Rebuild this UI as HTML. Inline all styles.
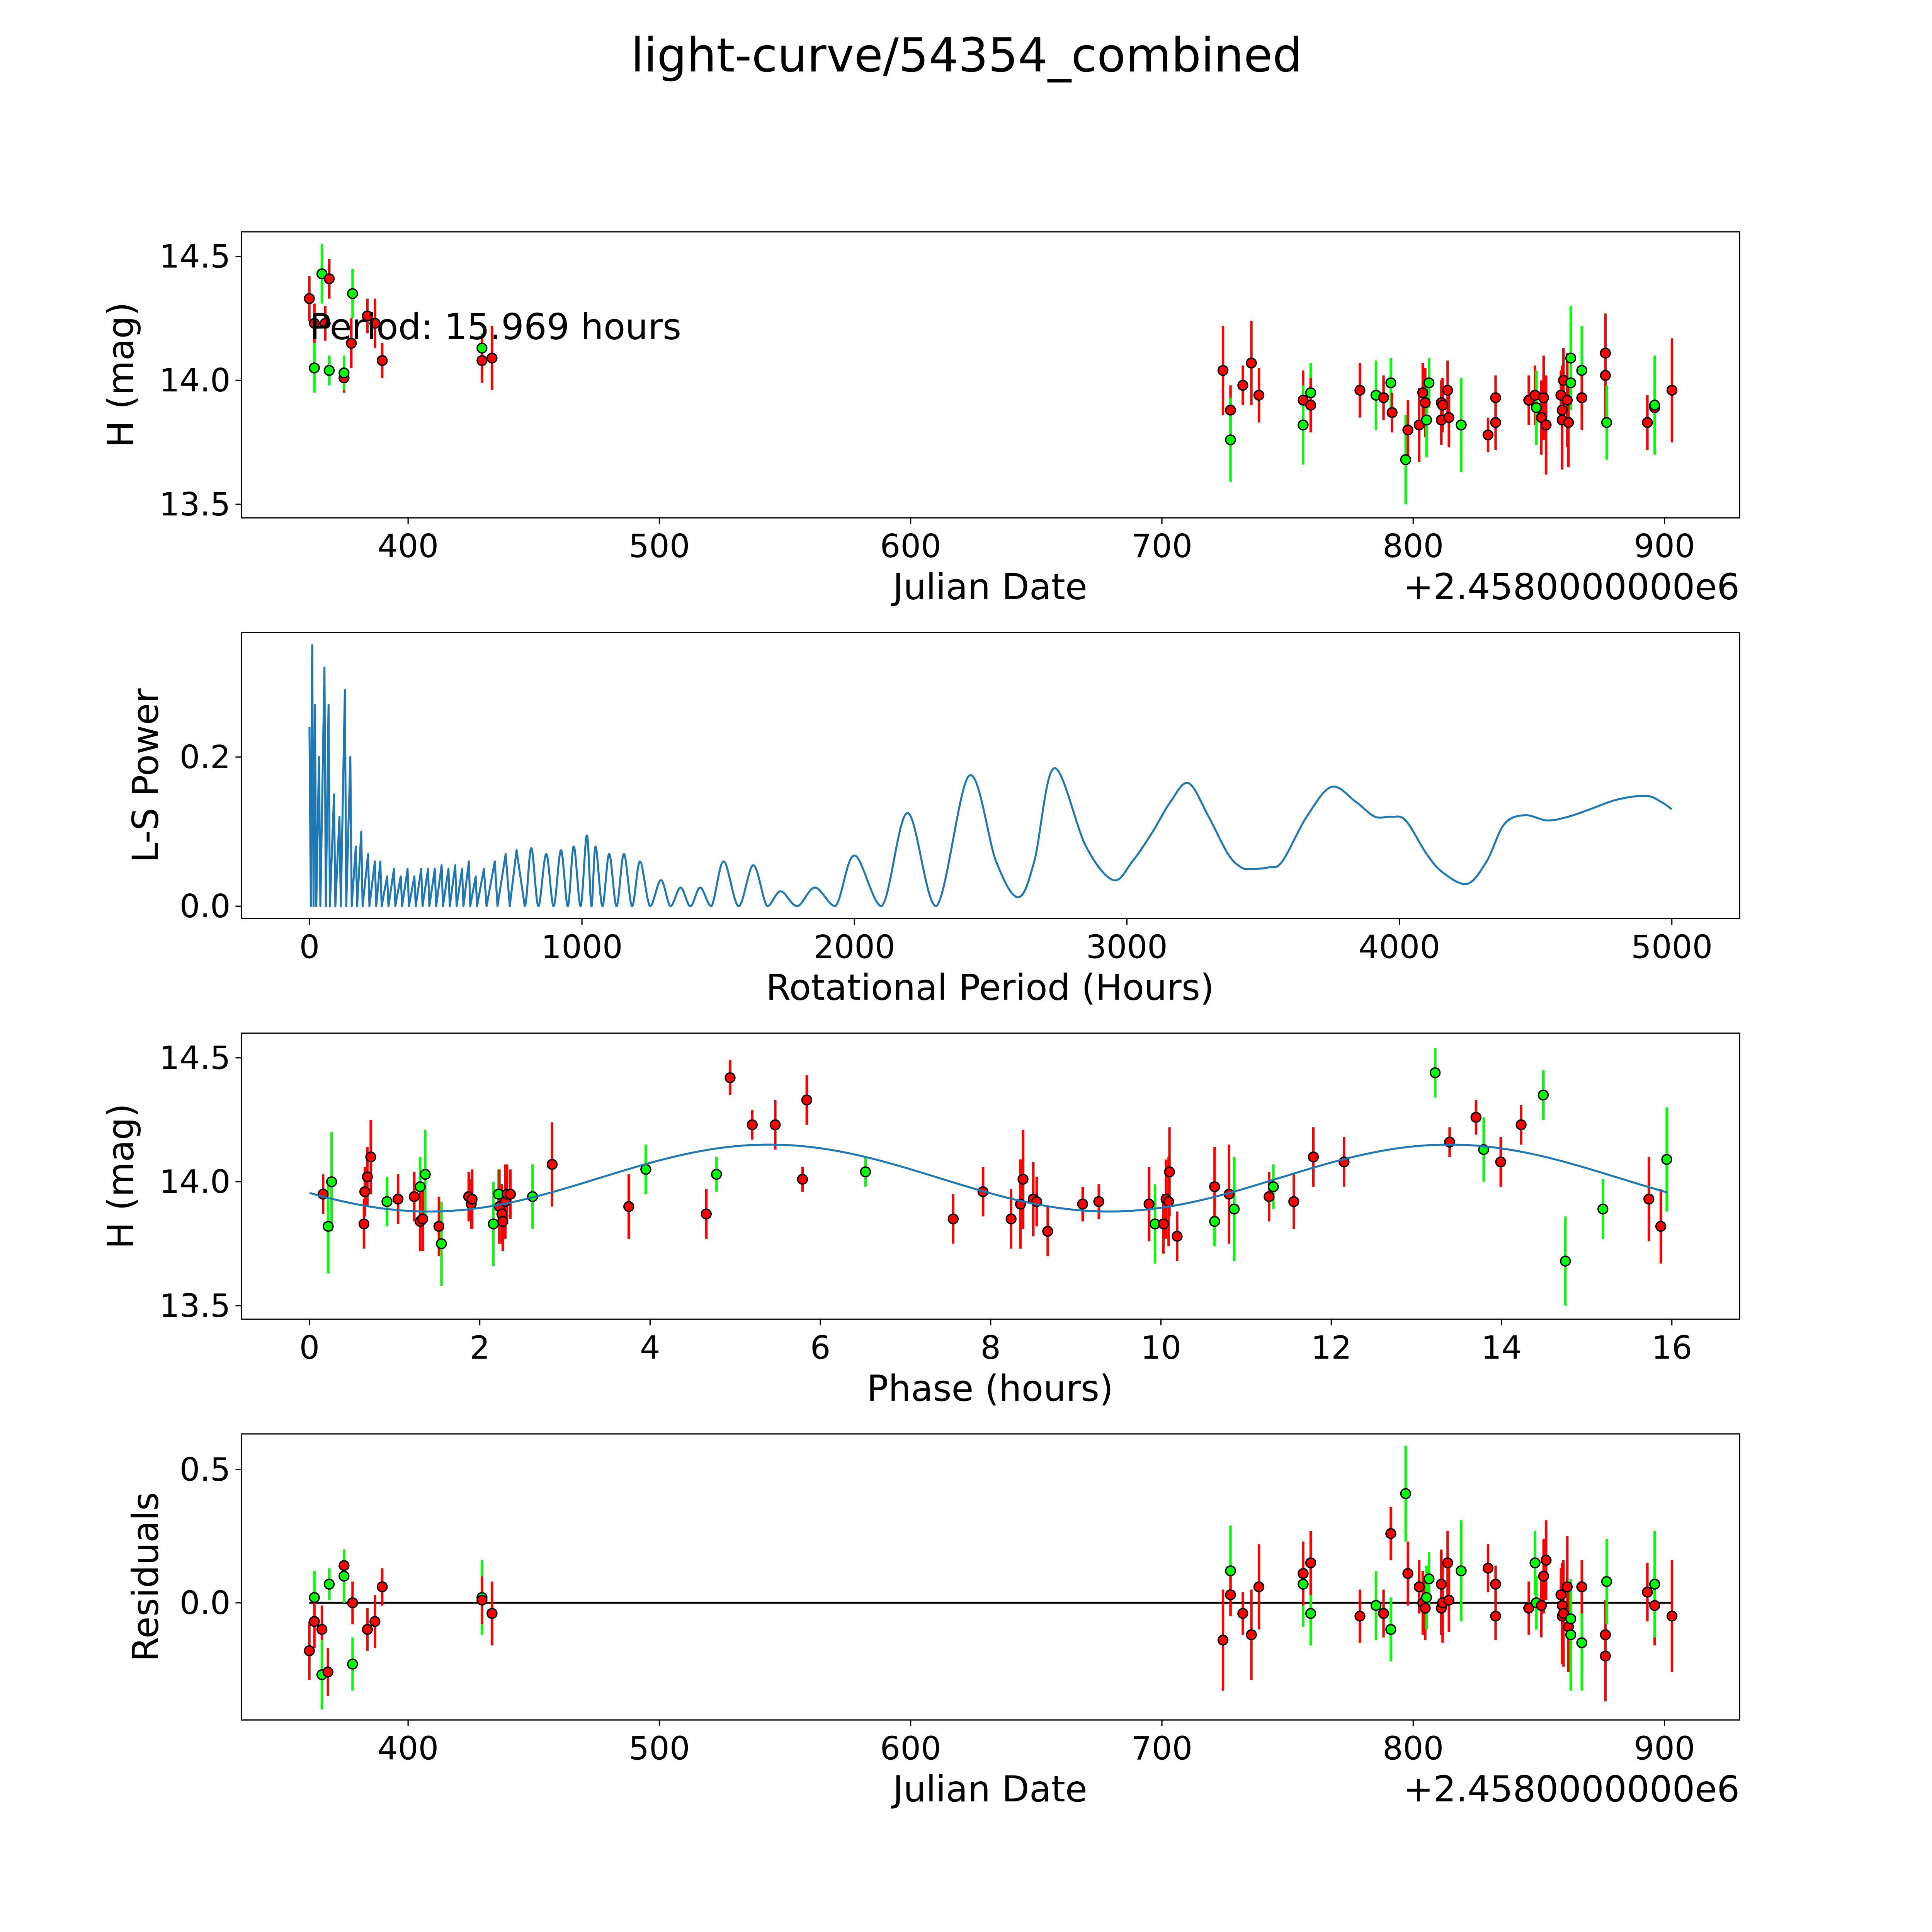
<!DOCTYPE html>
<html><head><meta charset="utf-8"><style>
html,body{margin:0;padding:0;background:#fff;overflow:hidden;width:100vw;height:100vh}
svg{display:block;width:100vw;height:100vh}
text{font-family:"DejaVu Sans","Liberation Sans",sans-serif;fill:#000}
</style></head><body>
<svg id="fig" viewBox="0 0 1567 1567" preserveAspectRatio="none" xmlns="http://www.w3.org/2000/svg">
<rect width="1600" height="1600" fill="#fff"/>
<text x="784" y="58" font-size="38" text-anchor="middle">light-curve/54354_combined</text>
<g id="p1"></g>
<g id="p2"></g>
<g id="p3"></g>
<g id="p4"></g>
</svg>
<script>
// ---- Data ----
const lcJD=[360.7,362.7,362.7,365.7,367,368.6,368.6,374.5,374.5,377.4,377.9,383.8,386.8,389.7,429.4,429.4,433.4,724.3,727.3,727.3,732.2,735.6,738.6,756.2,756.2,759.2,759.2,778.8,785.2,788.2,791.1,791.6,797,797.9,802.4,803.8,804.8,805.3,806.3,811.2,811.2,811.7,813.7,814.2,819.1,829.8,832.8,832.8,846,848.5,849,851,851.9,852.9,858.8,859.8,859.3,859.3,861.3,861.8,862.7,862.7,867.1,867.1,876.5,876.5,877,893.2,896.1,896.1,903];
const lcMag=[14.33,14.23,14.05,14.43,14.23,14.41,14.04,14.01,14.03,14.15,14.35,14.26,14.23,14.08,14.13,14.08,14.09,14.04,13.88,13.76,13.98,14.07,13.94,13.92,13.82,13.95,13.90,13.96,13.94,13.93,13.99,13.87,13.68,13.80,13.82,13.95,13.91,13.84,13.99,13.91,13.84,13.90,13.96,13.85,13.82,13.78,13.93,13.83,13.92,13.94,13.89,13.85,13.93,13.82,13.94,14.00,13.88,13.84,13.92,13.83,14.09,13.99,14.04,13.93,14.11,14.02,13.83,13.83,13.89,13.90,13.96];
const lcErr=[0.09,0.08,0.1,0.12,0.07,0.08,0.06,0.06,0.07,0.1,0.1,0.07,0.1,0.07,0.06,0.09,0.13,0.18,0.1,0.17,0.08,0.17,0.11,0.12,0.16,0.12,0.11,0.11,0.14,0.09,0.1,0.08,0.18,0.12,0.15,0.12,0.14,0.15,0.1,0.09,0.1,0.11,0.12,0.12,0.19,0.07,0.09,0.11,0.1,0.12,0.15,0.15,0.17,0.2,0.1,0.13,0.18,0.2,0.19,0.18,0.21,0.1,0.18,0.13,0.16,0.21,0.15,0.11,0.14,0.2,0.21];
const lcCol=['r','r','g','g','r','r','g','r','g','r','g','r','r','r','g','r','r','r','r','g','r','r','r','r','g','g','r','r','g','r','g','r','g','r','r','r','r','g','g','r','r','r','r','r','g','r','r','r','r','r','g','r','r','r','r','r','r','r','r','r','g','g','g','r','r','r','g','r','r','g','r'];

const phX=[0.16,0.22,0.26,0.64,0.65,0.68,0.72,0.91,1.04,1.23,1.30,1.30,1.33,1.36,1.52,1.55,1.87,1.90,1.91,2.16,2.22,2.23,2.26,2.27,2.30,2.32,2.36,2.62,2.85,3.75,3.95,4.66,4.78,4.94,5.20,5.47,5.79,5.84,6.53,7.56,7.91,8.24,8.35,8.38,8.50,8.54,8.67,9.08,9.27,9.86,9.93,10.03,10.06,10.09,10.10,10.19,10.63,10.63,10.80,10.86,11.27,11.32,11.56,11.79,12.15,13.22,13.39,13.70,13.79,13.99,14.23,14.49,14.75,15.19,15.73,15.87,15.94];
const phMag=[13.95,13.82,14.00,13.83,13.96,14.02,14.10,13.92,13.93,13.94,13.98,13.84,13.85,14.03,13.82,13.75,13.94,13.91,13.93,13.83,13.95,13.90,13.87,13.84,13.92,13.95,13.95,13.94,14.07,13.90,14.05,13.87,14.03,14.42,14.23,14.23,14.01,14.33,14.04,13.85,13.96,13.85,13.91,14.01,13.93,13.92,13.80,13.91,13.92,13.91,13.83,13.83,13.93,13.92,14.04,13.78,13.84,13.98,13.95,13.89,13.94,13.98,13.92,14.10,14.08,14.44,14.16,14.26,14.13,14.08,14.23,14.35,13.68,13.89,13.93,13.82,14.09];
const phCol=['r','g','g','r','r','r','r','g','r','r','g','r','r','g','r','g','r','r','r','g','g','r','r','r','r','r','r','g','r','r','g','r','g','r','r','r','r','r','g','r','r','r','r','r','r','r','r','r','r','r','g','r','r','r','r','r','g','r','r','g','r','g','r','r','r','g','r','r','g','r','r','g','g','g','r','r','g'];
const phErr=[0.08,0.19,0.2,0.1,0.1,0.12,0.15,0.1,0.1,0.1,0.12,0.12,0.13,0.18,0.12,0.17,0.1,0.1,0.12,0.17,0.1,0.15,0.12,0.12,0.15,0.12,0.1,0.13,0.17,0.13,0.1,0.1,0.07,0.07,0.06,0.1,0.05,0.1,0.06,0.1,0.1,0.12,0.18,0.2,0.15,0.1,0.1,0.07,0.07,0.15,0.16,0.12,0.16,0.18,0.18,0.1,0.1,0.16,0.2,0.21,0.1,0.09,0.11,0.12,0.1,0.1,0.06,0.07,0.13,0.1,0.08,0.1,0.18,0.12,0.17,0.15,0.21];
const fitMean=14.015, fitAmp=0.135, fitPeak=5.4, fitHalfPeriod=7.985;

const resJD=[360.7,362.7,362.7,365.7,365.7,368.1,368.6,374.5,374.5,377.9,377.9,383.8,386.8,389.7,429.4,429.4,433.4,724.3,727.3,727.3,732.2,735.6,738.6,756.2,756.2,759.2,759.2,778.8,785.2,788.2,791.1,791.1,797,797.9,802.4,803.8,804.8,805.3,806.3,811.2,811.2,811.7,813.7,814.2,819.1,829.8,832.8,832.8,846,848.5,849,851,851.9,852.9,858.8,859.3,859.3,859.8,861.3,861.8,862.7,862.7,867.1,867.1,876.5,876.5,877,893.2,896.1,896.1,903];
const resVal=[-0.18,0.02,-0.07,-0.10,-0.27,-0.26,0.07,0.14,0.10,0.0,-0.23,-0.10,-0.07,0.06,0.02,0.01,-0.04,-0.14,0.12,0.03,-0.04,-0.12,0.06,0.07,0.11,-0.04,0.15,-0.05,-0.01,-0.04,0.26,-0.10,0.41,0.11,0.06,0.0,-0.02,0.02,0.09,-0.02,0.07,0.0,0.15,0.01,0.12,0.13,0.07,-0.05,-0.02,0.15,0.0,-0.01,0.10,0.16,0.03,-0.05,-0.01,-0.04,0.06,-0.09,-0.12,-0.06,-0.15,0.06,-0.12,-0.20,0.08,0.04,-0.01,0.07,-0.05];
const resErr=[0.11,0.1,0.1,0.09,0.13,0.09,0.06,0.06,0.1,0.08,0.1,0.08,0.1,0.07,0.14,0.09,0.12,0.19,0.17,0.08,0.08,0.17,0.16,0.16,0.12,0.12,0.12,0.1,0.13,0.09,0.1,0.12,0.18,0.12,0.1,0.12,0.12,0.12,0.1,0.1,0.13,0.15,0.12,0.12,0.19,0.09,0.07,0.09,0.1,0.12,0.1,0.12,0.14,0.15,0.1,0.18,0.16,0.2,0.19,0.17,0.21,0.12,0.18,0.1,0.13,0.17,0.16,0.11,0.15,0.2,0.21];
const resCol=['r','g','r','r','g','r','g','r','g','r','g','r','r','r','g','r','r','r','g','r','r','r','r','g','r','g','r','r','g','r','r','g','g','r','r','r','r','g','g','r','r','r','r','r','g','r','r','r','r','g','g','r','r','r','r','r','r','r','r','r','g','g','g','r','r','r','g','r','r','g','r'];

const lsPeriod=[0,5,10,15,20,25,35,40,55,60,70,75,90,95,110,115,130,135,150,155,170,175,190,195,215,220,240,245,260,265,285,290,310,315,335,340,360,365,385,390,410,415,435,440,460,465,485,490,510,515,535,540,560,565,585,590,610,615,640,650,680,690,720,735,760,790,814,840,869,896,923,948,970,995,1018,1035,1050,1075,1100,1127,1154,1184,1213,1250,1290,1325,1362,1398,1434,1475,1520,1575,1629,1680,1729,1790,1855,1930,2000,2100,2195,2300,2421,2520,2600,2660,2733,2850,2950,3020,3095,3160,3226,3300,3371,3420,3457,3520,3570,3660,3751,3840,3910,3970,4023,4100,4160,4249,4320,4385,4460,4543,4620,4700,4800,4905,4960,5000];
const lsPower=[0.24,0,0.35,0,0.27,0,0.2,0,0.32,0,0.27,0,0.15,0,0.12,0,0.29,0,0.2,0,0.08,0,0.1,0,0.07,0,0.06,0,0.06,0,0.04,0,0.05,0,0.04,0,0.05,0,0.04,0,0.05,0,0.05,0,0.05,0,0.055,0,0.05,0,0.055,0,0.05,0,0.06,0,0.04,0,0.05,0,0.06,0,0.07,0,0.075,0,0.078,0,0.07,0,0.075,0,0.08,0,0.095,0,0.08,0,0.07,0,0.07,0,0.06,0,0.035,0,0.025,0,0.025,0,0.06,0,0.055,0,0.02,0,0.025,0,0.068,0,0.125,0,0.175,0.06,0.012,0.06,0.185,0.08,0.035,0.06,0.1,0.14,0.165,0.12,0.07,0.052,0.05,0.052,0.06,0.12,0.16,0.14,0.12,0.12,0.115,0.07,0.045,0.03,0.06,0.11,0.122,0.115,0.12,0.13,0.143,0.148,0.14,0.13];

// ---- helpers ----
const NS='http://www.w3.org/2000/svg';
function mk(parent,tag,attrs){const e=document.createElementNS(NS,tag);for(const k in attrs)e.setAttribute(k,attrs[k]);parent.appendChild(e);return e;}
const L=196,R=1411;
function lin(d0,d1,r0,r1){return v=>r0+(v-d0)*(r1-r0)/(d1-d0);}

function frame(g,top,bot,xs,xt,xl,ys,yt,yl,xlabel,ylabel,ylx,offset){
  const bx=mk(g,'rect',{x:L,y:top,width:R-L,height:bot-top,fill:'none',stroke:'#000','stroke-width':1});
  
  
  xt.forEach((v,i)=>{const x=xs(v);
    const t=mk(g,'line',{x1:x,x2:x,y1:bot,y2:bot+5,stroke:'#000'});
    
    
    const tx=mk(g,'text',{x:x,y:bot+32,'font-size':26,'text-anchor':'middle'});tx.textContent=xl[i];
    
    });
  yt.forEach((v,i)=>{const y=ys(v);
    const t=mk(g,'line',{x1:L-5,x2:L,y1:y,y2:y,stroke:'#000'});
    
    
    const tx=mk(g,'text',{x:L-9,y:y+9,'font-size':26,'text-anchor':'end'});tx.textContent=yl[i];
    
    });
  const xlab=mk(g,'text',{x:803,y:bot+66,'font-size':29,'text-anchor':'middle'});xlab.textContent=xlabel;
  
  
  const cy=(top+bot)/2;
  const ylab=mk(g,'text',{x:ylx,y:cy,'font-size':29,'text-anchor':'middle',transform:`rotate(-90 ${ylx} ${cy})`});ylab.textContent=ylabel;
  
  
  if(offset){const o=mk(g,'text',{x:R,y:bot+66,'font-size':29,'text-anchor':'end'});o.textContent='+2.4580000000e6';
    
    }
}
function points(g,xs,ys,X,Y,E,C){
  const eg=mk(g,'g',{});
  const mg=mk(g,'g',{});
  X.forEach((xv,i)=>{const x=xs(xv);const col=C[i]==='g'?'#00ff00':'#ff0000';
    const b=mk(eg,'line',{x1:x,x2:x,y1:ys(Y[i]-E[i]),y2:ys(Y[i]+E[i]),stroke:col,'stroke-width':2});
    
    
    const c=mk(mg,'circle',{cx:x,cy:ys(Y[i]),r:3.9,fill:col,stroke:'#000','stroke-width':1.1});
    
    });
}
const jdTicks=[400,500,600,700,800,900];

// Panel 1
(function(){const g=document.getElementById('p1');const top=188,bot=420;
 const xs=lin(400,900,331,1350), ys=lin(14.5,13.5,208,409);
 points(g,xs,ys,lcJD,lcMag,lcErr,lcCol);
 frame(g,top,bot,xs,jdTicks,jdTicks.map(String),ys,[13.5,14.0,14.5],['13.5','14.0','14.5'],'Julian Date','H (mag)',108,true);
 const t=mk(g,'text',{x:251,y:275,'font-size':29});t.textContent='Period: 15.969 hours';
 
 
})();
// Panel 2
(function(){const g=document.getElementById('p2');const top=513,bot=745;
 const xs=lin(0,5000,251,1356), ys=lin(0,0.2,735,614);
 const n=Math.min(lsPeriod.length,lsPower.length);
 const P=[];for(let i=0;i<n;i++)P.push([xs(lsPeriod[i]),ys(lsPower[i])]);
 let d='M'+P[0][0]+','+P[0][1];
 for(let i=0;i<P.length-1;i++){const p0=P[Math.max(0,i-1)],p1=P[i],p2=P[i+1],p3=P[Math.min(P.length-1,i+2)];
   if(lsPeriod[i]<790){d+=' L'+p2[0]+','+p2[1];continue;}
   const c1x=p1[0]+(p2[0]-p0[0])/6,c1y=p1[1]+(p2[1]-p0[1])/6,c2x=p2[0]-(p3[0]-p1[0])/6,c2y=p2[1]-(p3[1]-p1[1])/6;
   d+=` C${c1x},${Math.min(c1y,735)} ${c2x},${Math.min(c2y,735)} ${p2[0]},${p2[1]}`;}
 const pa=mk(g,'path',{d:d,fill:'none',stroke:'#1f77b4','stroke-width':1.6,'stroke-linejoin':'round'});
 
 
 const xt=[0,1000,2000,3000,4000,5000];
 frame(g,top,bot,xs,xt,xt.map(String),ys,[0,0.2],['0.0','0.2'],'Rotational Period (Hours)','L-S Power',128,false);
})();
// Panel 3
(function(){const g=document.getElementById('p3');const top=838,bot=1070;
 const xs=lin(0,16,251,1356), ys=lin(14.5,13.5,858,1059);
 points(g,xs,ys,phX,phMag,phErr,phCol);
 let d='';for(let k=0;k<=320;k++){const p=16*k/320*0.997;const v=fitMean+fitAmp*Math.cos(2*Math.PI*(p-fitPeak)/fitHalfPeriod);d+=(k?' L':'M')+xs(p)+','+ys(v);}
 const pa=mk(g,'path',{d:d,fill:'none',stroke:'#1f77b4','stroke-width':1.6});
 
 
 const xt=[0,2,4,6,8,10,12,14,16];
 frame(g,top,bot,xs,xt,xt.map(String),ys,[13.5,14.0,14.5],['13.5','14.0','14.5'],'Phase (hours)','H (mag)',108,false);
})();
// Panel 4
(function(){const g=document.getElementById('p4');const top=1163,bot=1395;
 const xs=lin(400,900,331,1350), ys=lin(0,0.5,1300,1192);
 const zl=mk(g,'line',{x1:xs(360.7),x2:xs(903),y1:ys(0),y2:ys(0),stroke:'#000','stroke-width':1.6});
 
 
 points(g,xs,ys,resJD,resVal,resErr,resCol);
 frame(g,top,bot,xs,jdTicks,jdTicks.map(String),ys,[0,0.5],['0.0','0.5'],'Julian Date','Residuals',128,true);
})();
</script>
</body></html>
